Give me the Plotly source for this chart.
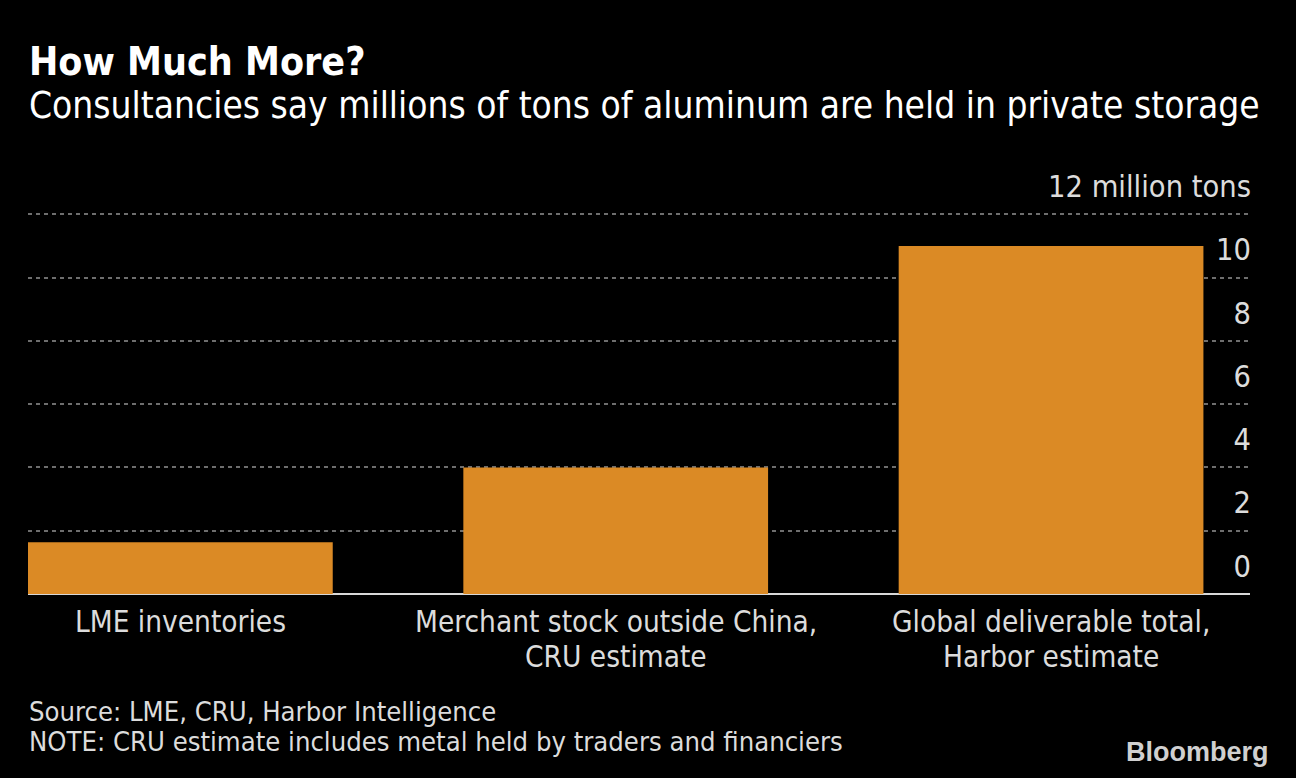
import plotly.graph_objects as go

categories = ["LME inventories",
              "Merchant stock outside China,<br>CRU estimate",
              "Global deliverable total,<br>Harbor estimate"]
values = [1.64, 4.0, 11.0]
tick_vals = [0, 2, 4, 6, 8, 10, 12]
tick_text = ["0", "2", "4", "6", "8", "10", "12 million tons"]

FONT = "DejaVu Sans Condensed, DejaVu Sans, sans-serif"
BAR = "#DB8A25"
TXT = "#DCDCDC"

W, H = 1296, 778
ML, MR, MT, MB = 28, 46, 167, 184
YMAX = 13.5
pw, ph = W - ML - MR, H - MT - MB

xs = list(range(len(categories)))
fig = go.Figure(go.Bar(x=xs, y=values,
                       marker=dict(color=BAR, line=dict(width=0)),
                       width=0.7, hoverinfo="skip"))

fig.update_layout(
    width=W, height=H,
    paper_bgcolor="#000000", plot_bgcolor="#000000",
    margin=dict(l=ML, r=MR, t=MT, b=MB, pad=0),
    showlegend=False,
    font=dict(family=FONT, color=TXT, size=29),
    xaxis=dict(range=[-0.35, 2.457], showticklabels=False, showgrid=False,
               zeroline=False, showline=False, ticks=""),
    yaxis=dict(range=[0, YMAX], side="right", tickvals=tick_vals, ticktext=tick_text,
               ticklabelposition="inside", ticklabelshift=-28, ticklabelstandoff=-4,
               showgrid=True, gridcolor="#6e6e6e", griddash="4px,4px", gridwidth=2,
               zeroline=True, zerolinecolor="#D8D8D8", zerolinewidth=2,
               showline=False, ticks="", tickfont=dict(size=30.5, color=TXT)),
)


def py2paper(py):
    return (H - MB - py) / ph


def add_text(text, px, py, size, color, anchor="left", family=FONT):
    fig.add_annotation(text=text, x=(px - ML) / pw, y=py2paper(py),
                       xref="paper", yref="paper", xanchor=anchor, yanchor="middle",
                       showarrow=False, font=dict(size=size, color=color, family=family))


# category labels under each bar, positioned by the x axis scale
for xv, cat in zip(xs, categories):
    for i, line in enumerate(cat.split("<br>")):
        fig.add_annotation(text=line, x=xv, xref="x", y=py2paper(622 + 35 * i), yref="paper",
                           xanchor="center", yanchor="middle", showarrow=False,
                           font=dict(size=29.5, color=TXT, family=FONT))

add_text("<b>How Much More?</b>", 27, 62, 39, "#FFFFFF")
add_text("Consultancies say millions of tons of aluminum are held in private storage",
         27, 105, 36.8, "#FFFFFF")
add_text("Source: LME, CRU, Harbor Intelligence", 27, 711, 27.2, TXT)
add_text("NOTE: CRU estimate includes metal held by traders and financiers", 27, 741, 27.2, TXT)
add_text("<b>Bloomberg</b>", 1271, 752, 27, "#D0D0D0", anchor="right",
         family="Liberation Sans, Arial, sans-serif")

fig.write_html("out.html",
               config={"displayModeBar": False},
               post_script="document.body.style.margin='0';document.body.style.overflow='hidden';")
